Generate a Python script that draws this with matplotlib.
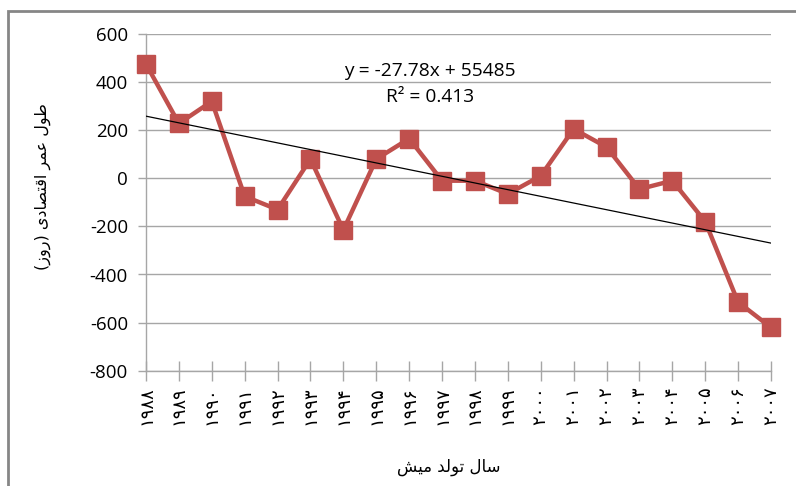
import matplotlib
matplotlib.use("Agg")
import matplotlib.pyplot as plt
from matplotlib.patches import Rectangle
import numpy as np

years = list(range(1988, 2008))
values = [475, 228, 320, -75, -130, 80, -215, 80, 165, -10, -10, -65, 10, 205, 130, -45, -10, -180, -515, -620]
trend_slope = -27.78
trend_intercept = 55485
eq_text = "y = -27.78x + 55485"
r2_text = "R² = 0.413"

persian_digits = "۰۱۲۳۴۵۶۷۸۹"
def to_persian(n):
    return "".join(persian_digits[int(c)] for c in str(n))
xlabels = [to_persian(y) for y in years]

# Visually ordered (pre-shaped) Persian labels
xlabel_text = "\uFEB6\uFEF4\uFEE3 \uFEAA\uFEDF\uFEEE\uFE97 \uFEDD\uFE8E\uFEB3"   # سال تولد میش
ylabel_text = "(\uFEAF\uFEED\uFEAD) \uFEEF\uFEA9\uFE8E\uFEBC\uFE98\uFED7\uFE8D \uFEAE\uFEE4\uFECB \uFEDD\uFEEE\uFEC3"  # طول عمر اقتصادی (روز)

fig = plt.figure(figsize=(7.96, 4.86), dpi=100)
ax = fig.add_axes([146/796, 1-370.7/486, (771-146)/796, (370.7-34)/486])

red = "#c0504d"
ax.plot(years, values, color=red, lw=3.2, marker="s", ms=12.5, mfc=red, mec=red, zorder=3, clip_on=False)
tx = np.array([years[0], years[-1]])
ax.plot(tx, trend_slope*tx + trend_intercept, color="black", lw=0.9, zorder=4)

ax.set_xlim(years[0], years[-1])
ax.set_ylim(-800, 600)
ax.set_yticks(np.arange(-800, 601, 200))
ax.set_yticklabels([str(v) for v in range(-800, 601, 200)], fontsize=13.5, family="Open Sans")
ax.set_xticks(years)
ax.set_xticklabels(xlabels, rotation=90, fontsize=13, family="DejaVu Sans", va="top", ha="center")
ax.tick_params(axis="x", direction="inout", length=14, width=1, color="#a6a6a6", pad=4)
ax.tick_params(axis="y", direction="out", length=6, width=1, color="#a6a6a6", pad=7)
ax.grid(axis="y", color="#a6a6a6", lw=1)
ax.set_axisbelow(True)
for s in ["top", "right"]:
    ax.spines[s].set_visible(False)
for s in ["left", "bottom"]:
    ax.spines[s].set_color("#a6a6a6")
    ax.spines[s].set_linewidth(1)

fig.text(430/796, 1-71/486, eq_text, ha="center", va="center", fontsize=13.8, family="Open Sans")
fig.text(430/796, 1-97/486, r2_text, ha="center", va="center", fontsize=13.8, family="Open Sans")

fig.text(449/796, 1-467/486, xlabel_text, ha="center", va="center", fontsize=12, family="DejaVu Sans")
fig.text(43/796, 1-187/486, ylabel_text, ha="center", va="center", rotation=90, fontsize=11.5, family="DejaVu Sans")

fig.patches.append(Rectangle((8/796, -0.2), 1.2, 1.2 - 11/486, transform=fig.transFigure,
                             fill=False, edgecolor="#868686", lw=2))

fig.savefig("out.png", dpi=100)
